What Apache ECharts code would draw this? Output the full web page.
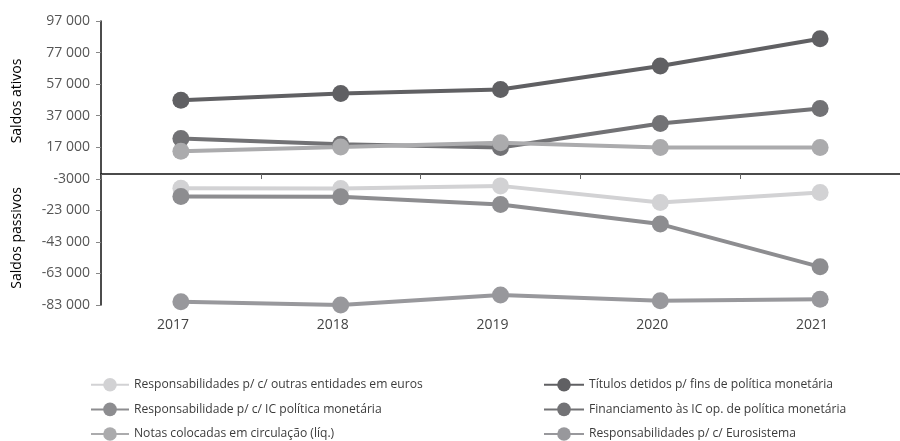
<!DOCTYPE html>
<html>
<head>
<meta charset="utf-8">
<script src="https://cdn.jsdelivr.net/npm/echarts@6/dist/echarts.min.js"></script>
<style>
  html, body { margin: 0; padding: 0; background: #ffffff; }
  #chart { width: 900px; height: 441px; }
</style>
</head>
<body>
<div id="chart"></div>
<script>
// Categories (years)
const years = ['2017', '2018', '2019', '2020', '2021'];

// Assets (saldos ativos)
const titulosPolitica = [46800, 51000, 53600, 68500, 85800];
const financiamentoIC = [22500, 18900, 16800, 32000, 41500];
const notasCirculacao = [14500, 17200, 19800, 16800, 16800];

// Liabilities (saldos passivos)
const outrasEntidades = [-9000, -9200, -7500, -18000, -11700];
const icPolitica = [-14200, -14400, -19300, -31700, -58800];
const eurosistema = [-80900, -83000, -76700, -80300, -79400];

// Value axis ticks
const yMin = -83000;
const yMax = 97000;
const yStep = 20000;

const names = {
  outras: 'Responsabilidades p/ c/ outras entidades em euros',
  ic: 'Responsabilidade p/ c/ IC política monetária',
  notas: 'Notas colocadas em circulação (líq.)',
  titulos: 'Títulos detidos p/ fins de política monetária',
  fin: 'Financiamento às IC op. de política monetária',
  euro: 'Responsabilidades p/ c/ Eurosistema'
};

const colors = {
  outras: '#d2d2d4',
  ic: '#8d8d90',
  notas: '#ababad',
  titulos: '#606063',
  fin: '#727275',
  euro: '#98989c'
};

// Legend text is set tight: size the face so the longest entry spans ~289px
const legendFamily = "'Open Sans', sans-serif";
function legendFontSize() {
  const ctx = document.createElement('canvas').getContext('2d');
  ctx.font = '14px ' + legendFamily;
  const w = ctx.measureText(names.outras).width;
  const s = 14 * 289 / w;
  return Math.max(11, Math.min(14, s));
}

function fmt(v) {
  const a = Math.abs(v);
  let s = String(a);
  if (a >= 10000) s = s.replace(/\B(?=(\d{3})+(?!\d))/g, ' ');
  return (v < 0 ? '-' : '') + s;
}

function lineSeries(key, data) {
  return {
    name: names[key],
    type: 'line',
    data: data,
    symbol: 'circle',
    symbolSize: 17,
    lineStyle: { width: 4, color: colors[key] },
    itemStyle: { color: colors[key] },
    emphasis: { disabled: true },
    animation: false
  };
}

const legendText = {
  fontFamily: legendFamily,
  fontSize: legendFontSize(),
  color: '#3c3c3c'
};

const chart = echarts.init(document.getElementById('chart'), null, { renderer: 'canvas' });

chart.setOption({
  backgroundColor: '#ffffff',
  animation: false,
  grid: { left: 101, right: -11, top: 21, bottom: 136, containLabel: false },
  xAxis: [
    {
      type: 'category',
      data: years,
      boundaryGap: true,
      axisLine: { show: true, onZero: true, lineStyle: { color: '#111111', width: 1.5 } },
      axisTick: { show: true, length: 5, lineStyle: { color: '#666666', width: 1 } },
      axisLabel: { show: false },
      splitLine: { show: false }
    },
    {
      type: 'category',
      data: years,
      position: 'bottom',
      boundaryGap: true,
      axisLine: { show: false, onZero: false },
      axisTick: { show: false },
      axisLabel: {
        show: true,
        margin: 13,
        padding: [0, 16, 0, 0],
        fontFamily: "'Open Sans', sans-serif",
        fontSize: 14,
        color: '#444444'
      },
      splitLine: { show: false }
    }
  ],
  yAxis: {
    type: 'value',
    min: yMin,
    max: yMax,
    interval: yStep,
    axisLine: { show: true, lineStyle: { color: '#111111', width: 1.5 } },
    axisTick: { show: true, length: 5, lineStyle: { color: '#888888' } },
    axisLabel: {
      margin: 11,
      formatter: fmt,
      fontFamily: "'Open Sans', sans-serif",
      fontSize: 14,
      color: '#555555'
    },
    splitLine: { show: false }
  },
  legend: [
    {
      orient: 'vertical',
      left: 90,
      top: 378,
      height: 80,
      padding: 0,
      itemWidth: 38,
      itemHeight: 17,
      itemGap: 11,
      selectedMode: false,
      textStyle: legendText,
      data: [names.outras, names.ic, names.notas]
    },
    {
      orient: 'vertical',
      left: 543,
      top: 378,
      height: 80,
      padding: 0,
      itemWidth: 40,
      itemHeight: 17,
      itemGap: 11,
      selectedMode: false,
      textStyle: legendText,
      data: [names.titulos, names.fin, names.euro]
    }
  ],
  graphic: [
    {
      type: 'text',
      x: 17, y: 101,
      rotation: Math.PI / 2,
      style: {
        text: 'Saldos ativos',
        fontFamily: "'Open Sans', sans-serif",
        fontSize: 14,
        fill: '#000000',
        align: 'center',
        verticalAlign: 'middle'
      }
    },
    {
      type: 'text',
      x: 17, y: 238,
      rotation: Math.PI / 2,
      style: {
        text: 'Saldos passivos',
        fontFamily: "'Open Sans', sans-serif",
        fontSize: 14,
        fill: '#000000',
        align: 'center',
        verticalAlign: 'middle'
      }
    }
  ],
  series: [
    lineSeries('titulos', titulosPolitica),
    lineSeries('fin', financiamentoIC),
    lineSeries('outras', outrasEntidades),
    lineSeries('ic', icPolitica),
    lineSeries('notas', notasCirculacao),
    lineSeries('euro', eurosistema)
  ]
});
</script>
</body>
</html>
